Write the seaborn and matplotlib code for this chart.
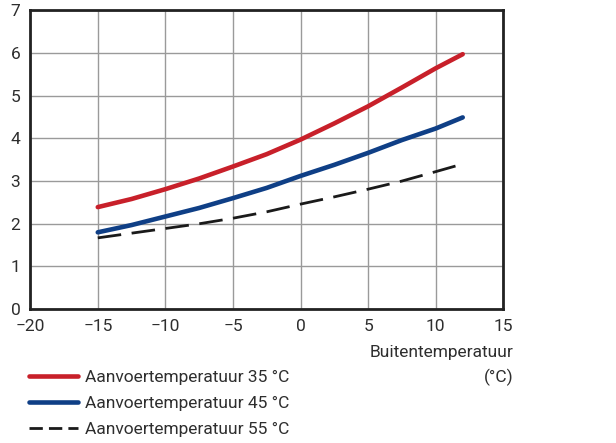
import numpy as np
import pandas as pd
import matplotlib
matplotlib.use("Agg")
import matplotlib.pyplot as plt
import seaborn as sns
from matplotlib.lines import Line2D

# Data
buiten = [-15, -12.5, -10, -7.5, -5, -2.5, 0, 2.5, 5, 7.5, 10, 12]
cop_35 = [2.39, 2.58, 2.81, 3.06, 3.34, 3.63, 3.97, 4.35, 4.75, 5.19, 5.64, 5.97]
cop_45 = [1.80, 1.97, 2.17, 2.37, 2.60, 2.84, 3.12, 3.38, 3.66, 3.96, 4.23, 4.49]
cop_55 = [1.67, 1.78, 1.89, 2.00, 2.13, 2.28, 2.46, 2.63, 2.81, 3.00, 3.22, 3.40]
labels = ["Aanvoertemperatuur 35 °C", "Aanvoertemperatuur 45 °C", "Aanvoertemperatuur 55 °C"]
colors = ["#c8202a", "#0f3f86", "#1a1a1a"]

n = len(buiten)
df = pd.DataFrame({
    "x": buiten * 3,
    "y": cop_35 + cop_45 + cop_55,
    "serie": [labels[0]] * n + [labels[1]] * n + [labels[2]] * n,
})

sns.set_style("white")
plt.rcParams['font.family'] = ['Roboto', 'DejaVu Sans']
txt = "#2e2e2e"

fig = plt.figure(figsize=(6.16, 4.43), dpi=100)
ax = fig.add_axes([0.049, 0.302, 0.768, 0.675])

widths = [3.3, 3.3, 2.0]
for lab, col, lw in zip(labels, colors, widths):
    sub = df[df["serie"] == lab]
    sns.lineplot(data=sub, x="x", y="y", ax=ax, color=col, linewidth=lw,
                 solid_capstyle="round", legend=False, zorder=3)
ax.lines[2].set_dashes([8.5, 3.8])

ax.set_xlim(-20, 15)
ax.set_ylim(0, 7)
ax.set_xticks(range(-20, 16, 5))
ax.set_xticklabels([str(v).replace("-", "\u2212") for v in range(-20, 16, 5)])
ax.set_yticks(range(0, 8))
ax.grid(True, color="#9a9a9a", linewidth=1.0)
for s in ax.spines.values():
    s.set_color("#222222")
    s.set_linewidth(2.0)
ax.tick_params(direction="out", length=4, width=1, color="#555555",
               labelsize=12.5, labelcolor=txt, pad=3)
ax.set_xlabel("")
ax.set_ylabel("")

fig.text(0.833, 0.176, "Buitentemperatuur\n(°C)", ha="right", va="center",
         fontsize=12.5, color=txt, linespacing=1.65)

handles = [Line2D([], [], color=colors[0], lw=3.3, solid_capstyle="round"),
           Line2D([], [], color=colors[1], lw=3.3, solid_capstyle="round"),
           Line2D([], [], color=colors[2], lw=2.0, dashes=[4.8, 2.2])]
leg = fig.legend(handles, labels, loc="upper left", bbox_to_anchor=(0.047, 0.166),
                 frameon=False, fontsize=12.5, handlelength=2.85, handletextpad=0.35,
                 labelspacing=0.65, borderaxespad=0, borderpad=0)
for t in leg.get_texts():
    t.set_color(txt)

fig.savefig("out.png", dpi=100)
